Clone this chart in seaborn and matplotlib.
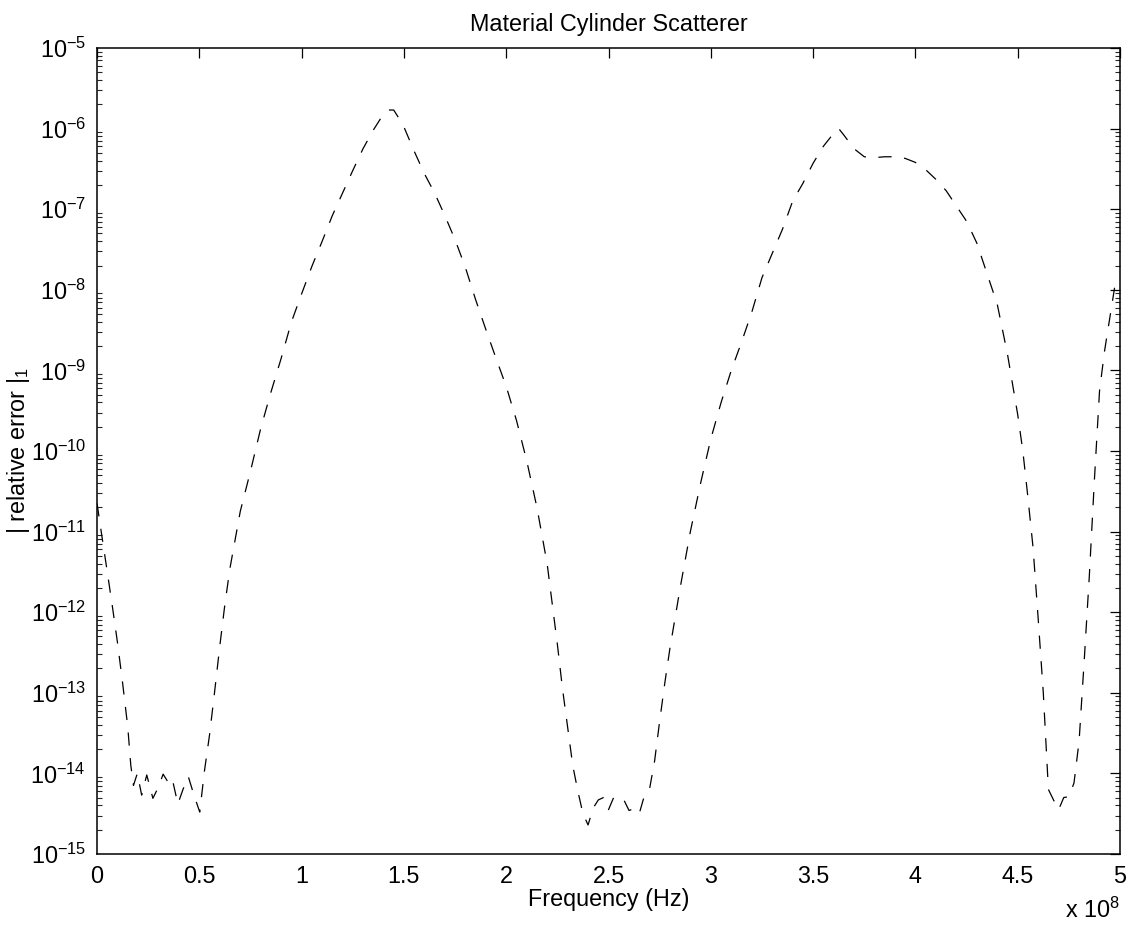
import numpy as np
import matplotlib
matplotlib.use("Agg")
import matplotlib.pyplot as plt
from matplotlib.ticker import FixedLocator, FuncFormatter, NullFormatter
import seaborn as sns

# Frequency samples (units of 1e8 Hz) and log10 of the relative error
freq_1e8 = [
    0.000, 0.025, 0.050, 0.075, 0.100, 0.125, 0.150, 0.165,
    0.178, 0.197, 0.218, 0.243, 0.273, 0.298, 0.323, 0.345, 0.366, 0.395,
    0.420, 0.446, 0.475, 0.502,
    0.525, 0.550, 0.575, 0.600, 0.625, 0.650, 0.675, 0.700, 0.750, 0.800,
    0.850, 0.900, 0.950, 1.000, 1.050, 1.100, 1.150, 1.200, 1.250, 1.300,
    1.350, 1.400, 1.425, 1.450, 1.475, 1.500, 1.550, 1.600, 1.650, 1.700,
    1.750, 1.800, 1.850, 1.900, 1.950, 2.000, 2.050, 2.100, 2.150, 2.200,
    2.250, 2.275, 2.300, 2.325, 2.350, 2.375, 2.400,
    2.425, 2.450, 2.475, 2.500, 2.525, 2.550, 2.575, 2.600, 2.625, 2.650,
    2.675, 2.700, 2.725, 2.750, 2.775, 2.800, 2.850, 2.900, 2.950, 3.000,
    3.050, 3.100, 3.150, 3.200, 3.250, 3.300, 3.350, 3.400, 3.450, 3.500,
    3.550, 3.600, 3.625, 3.650, 3.700, 3.750, 3.800, 3.850, 3.900, 3.950,
    4.000, 4.050, 4.100, 4.150, 4.200, 4.250, 4.300, 4.350, 4.400, 4.450,
    4.500, 4.525, 4.550, 4.575, 4.600, 4.625, 4.650,
    4.675, 4.700, 4.725, 4.750, 4.775, 4.800, 4.825, 4.850, 4.875, 4.900,
    4.925, 4.950, 4.975, 5.000,
]
log10_error = [
    -10.65, -11.08, -11.50, -11.93, -12.38, -12.88, -13.42, -13.90,
    -14.15, -14.00, -14.27, -14.02, -14.31, -14.18, -14.01, -14.10, -14.05, -14.38,
    -14.20, -14.04, -14.28, -14.48,
    -13.97, -13.52, -12.98, -12.42, -11.90, -11.45, -11.10, -10.75, -10.25, -9.72,
    -9.27, -8.85, -8.40, -8.05, -7.71, -7.40, -7.08, -6.80, -6.52, -6.25,
    -6.02, -5.82, -5.77, -5.77, -5.87, -5.98, -6.28, -6.56, -6.80, -7.08,
    -7.38, -7.72, -8.12, -8.49, -8.85, -9.20, -9.62, -10.12, -10.70, -11.40,
    -12.40, -12.95, -13.42, -13.90, -14.22, -14.50, -14.64,
    -14.43, -14.33, -14.30, -14.45, -14.30, -14.34, -14.33, -14.46, -14.44, -14.50,
    -14.28, -14.20, -13.85, -13.35, -12.88, -12.45, -11.70, -11.00, -10.40, -9.85,
    -9.40, -9.00, -8.65, -8.28, -7.85, -7.55, -7.25, -6.90, -6.68, -6.43,
    -6.22, -6.06, -6.00, -6.08, -6.25, -6.35, -6.36, -6.35, -6.35, -6.37,
    -6.42, -6.51, -6.63, -6.77, -6.96, -7.15, -7.42, -7.80, -8.18, -8.80,
    -9.55, -10.00, -10.58, -11.20, -12.08, -13.00, -14.20,
    -14.33, -14.45, -14.30, -14.29, -14.12, -13.60, -12.60, -11.55, -10.35, -9.25,
    -8.75, -8.35, -7.95, -7.86,
]
relative_error = [10.0 ** v for v in log10_error]

x_ticks = [0, 0.5, 1, 1.5, 2, 2.5, 3, 3.5, 4, 4.5, 5]
y_decades = list(range(-15, -4))

sns.set_theme(style="white")
plt.rcParams["font.family"] = ["Liberation Sans", "DejaVu Sans"]
plt.rcParams["mathtext.fontset"] = "custom"
plt.rcParams["mathtext.rm"] = "Liberation Sans"
plt.rcParams["mathtext.it"] = "Liberation Sans:italic"
plt.rcParams["mathtext.bf"] = "Liberation Sans:bold"
plt.rcParams["lines.scale_dashes"] = False

FS = 16.8
fig = plt.figure(figsize=(11.35, 9.26), dpi=100)
ax = fig.add_axes([0.0855, 0.0778, 0.9013, 0.8704])

sns.lineplot(x=freq_1e8, y=relative_error, ax=ax, color="black",
             linewidth=0.9, linestyle=(0, (9.5, 9.0)), sort=False,
             errorbar=None, estimator=None)

ax.set_yscale("log")
ax.set_xlim(0, 5)
ax.set_ylim(1e-15, 1e-5)

ax.xaxis.set_major_locator(FixedLocator(x_ticks))
ax.xaxis.set_major_formatter(FuncFormatter(lambda v, p: f"{v:g}"))

major_y = [10.0 ** d for d in y_decades]
minor_y = [m * 10.0 ** d for d in y_decades[:-1] for m in range(2, 10)]
ax.yaxis.set_major_locator(FixedLocator(major_y))
ax.yaxis.set_major_formatter(
    FuncFormatter(lambda v, p: r"10$^{%d}$" % int(round(np.log10(v)))))
ax.yaxis.set_minor_locator(FixedLocator(minor_y))
ax.yaxis.set_minor_formatter(NullFormatter())

for side in ["top", "right", "bottom", "left"]:
    ax.spines[side].set_visible(True)
    ax.spines[side].set_color("black")
    ax.spines[side].set_linewidth(1.1)

ax.tick_params(axis="both", which="major", direction="in", length=7.5, width=0.9,
               top=True, right=True, labelsize=FS, colors="black", pad=8)
ax.tick_params(axis="y", which="minor", direction="in", length=3.8, width=0.8,
               left=True, right=True)

ax.set_title("Material Cylinder Scatterer", fontsize=FS, color="black", pad=12)
ax.set_xlabel("Frequency (Hz)", fontsize=FS, color="black")
ax.xaxis.set_label_coords(0.5, -0.042)
ax.set_ylabel(r"| relative error |$_1$", fontsize=FS, color="black")
ax.yaxis.set_label_coords(-0.064, 0.5)

ax.text(1.0, -(918 - 854) / 806, r"x 10$^{8}$", transform=ax.transAxes,
        ha="right", va="baseline", fontsize=FS, color="black")

fig.savefig("out.png", dpi=100, facecolor="white")
